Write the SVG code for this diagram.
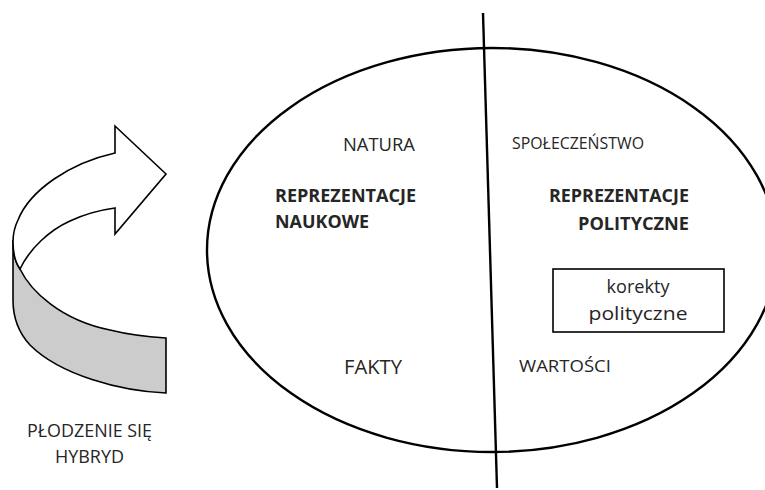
<svg xmlns="http://www.w3.org/2000/svg" width="765" height="490" viewBox="0 0 765 490">
<style>
text{font-family:"Open Sans","Liberation Sans",Arial,sans-serif;fill:#262626}
.b{font-weight:bold}
.ln{fill:none;stroke:#000;stroke-width:2.4}
.sh{stroke:#000;stroke-width:1.6;stroke-linejoin:miter}
</style>
<rect width="765" height="490" fill="#fff"/>
<g id="arrow">
<path class="sh" fill="#cccccc" d="M20,269 C30,290 60,320 110,330 C130,335 150,337 166,338 L166,393 C120,391 60,375 30,345 C18,332 13,318 13,300 L13,240 C13,252 15,262 20,269 Z"/>
<path class="sh" fill="#fff" d="M115,153 C70,163 30,190 18,220 C14,228 13,235 13,242 C13,252 15,262 20,269 C30,248 50,230 70,221 C85,214 100,210 115,208 L115,234 L166,174 L115,126 Z"/>
</g>
<g id="ellipse">
<ellipse class="ln" cx="492" cy="250" rx="285" ry="202"/>
</g>
<g id="connectors">
<line class="ln" x1="483" y1="13" x2="497" y2="488"/>
</g>
<g id="natura"><text x="343" y="151" font-size="18" textLength="72" lengthAdjust="spacingAndGlyphs">NATURA</text></g>
<g id="spoleczenstwo"><text x="512" y="149" font-size="16.5" textLength="132" lengthAdjust="spacingAndGlyphs">SPOŁECZEŃSTWO</text></g>
<g id="repr-naukowe">
<text class="b" x="275" y="202" font-size="18" textLength="141" lengthAdjust="spacingAndGlyphs">REPREZENTACJE</text>
<text class="b" x="275" y="228" font-size="18" textLength="94" lengthAdjust="spacingAndGlyphs">NAUKOWE</text>
</g>
<g id="repr-polityczne">
<text class="b" x="549" y="202" font-size="18" textLength="140" lengthAdjust="spacingAndGlyphs">REPREZENTACJE</text>
<text class="b" x="578" y="230" font-size="18" textLength="111" lengthAdjust="spacingAndGlyphs">POLITYCZNE</text>
</g>
<g id="korekty">
<rect x="553" y="269" width="171" height="63" fill="#fff" stroke="#000" stroke-width="1.6"/>
<text x="638" y="293" font-size="18" text-anchor="middle" textLength="63" lengthAdjust="spacingAndGlyphs">korekty</text>
<text x="638" y="320" font-size="18" text-anchor="middle" textLength="99" lengthAdjust="spacingAndGlyphs">polityczne</text>
</g>
<g id="fakty"><text x="344" y="374" font-size="20" textLength="58" lengthAdjust="spacingAndGlyphs">FAKTY</text></g>
<g id="wartosci"><text x="519" y="372" font-size="17" textLength="92" lengthAdjust="spacingAndGlyphs">WARTOŚCI</text></g>
<g id="plodzenie">
<text x="27" y="437" font-size="18" textLength="125" lengthAdjust="spacingAndGlyphs">PŁODZENIE SIĘ</text>
<text x="55" y="463" font-size="18" textLength="69" lengthAdjust="spacingAndGlyphs">HYBRYD</text>
</g>
</svg>
